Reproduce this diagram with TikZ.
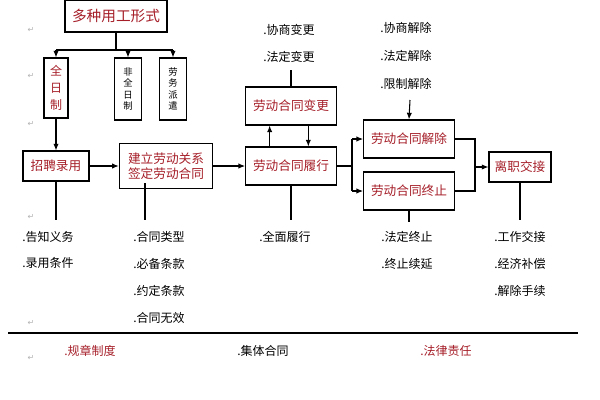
\documentclass[tikz,border=0pt]{standalone}
\usepackage{fontspec}
\setmainfont{Noto Sans CJK SC}
\newfontfamily\dv{DejaVu Sans}
\usetikzlibrary{arrows.meta}
\definecolor{myred}{RGB}{165,30,40}
\begin{document}
\begin{tikzpicture}[x=0.75pt,y=-0.75pt,
  bx/.style={draw,thick,inner sep=0pt,text=myred,font=\fontsize{9.5}{11}\selectfont},
  vb/.style={draw,thick,inner sep=0pt,font=\fontsize{7}{8.5}\selectfont,align=center},
  ln/.style={thick},
  ar/.style={thick,-{Latex[length=5pt,width=4pt]}},
  lbl/.style={anchor=west,inner sep=0pt,font=\fontsize{9}{10}\selectfont},
  pm/.style={inner sep=0pt,text=gray!60,font=\dv\fontsize{6}{6}\selectfont}]
\useasboundingbox (0,0) rectangle (600,400);
\node[bx,minimum width=76.5pt,minimum height=24pt,font=\fontsize{11}{12}\selectfont] (top) at (116,16) {多种用工形式};
\node[vb,text=myred,minimum width=18pt,minimum height=45pt,font=\fontsize{9}{13}\selectfont] (qr) at (56,88) {全\\日\\制};
\node[vb,minimum width=20pt,minimum height=46.5pt] (fq) at (128,89) {非\\全\\日\\制};
\node[vb,minimum width=20pt,minimum height=46.5pt] (lw) at (173,89) {劳\\务\\派\\遣};
\node[bx,minimum width=49.5pt,minimum height=22.5pt] (zp) at (56,166) {招聘录用};
\node[bx,minimum width=70pt,minimum height=34pt,align=center] (jl) at (166,166) {建立劳动关系\\签定劳动合同};
\node[bx,minimum width=68pt,minimum height=28.5pt] (lx) at (291,166) {劳动合同履行};
\node[bx,minimum width=68pt,minimum height=28.5pt] (bg) at (291,106) {劳动合同变更};
\node[bx,minimum width=68pt,minimum height=28.5pt] (jc) at (409,139) {劳动合同解除};
\node[bx,minimum width=68pt,minimum height=28.5pt] (zz) at (409,191) {劳动合同终止};
\node[bx,minimum width=46.5pt,minimum height=22.5pt] (lz) at (520,167) {离职交接};
% top branch
\coordinate (b0) at (116,50);
\draw[ln] (top.south) -- (b0);
\draw[ln] (56,50) -- (173,50);
\draw[ar] (56,50) -- (qr.north);
\draw[ar] (128,50) -- (fq.north);
\draw[ar] (173,50) -- (lw.north);
\draw[ar] (qr.south) -- (zp.north);
\draw[ar] (zp.east) -- (jl.west);
\draw[ar] (jl.east) -- (lx.west);
\draw[ar] ([xshift=-16]lx.north) -- ([xshift=-16]bg.south);
\draw[ar] ([xshift=13]bg.south) -- ([xshift=13]lx.north);
\coordinate (s1) at (352,166);
\draw[ln] (lx.east) -- (s1);
\draw[ln] (352,139) -- (352,191);
\draw[ar] (352,139) -- (jc.west);
\draw[ar] (352,191) -- (zz.west);
\draw[ln] (jc.east) -- (475,139) -- (475,191) -- (zz.east);
\draw[ar] (475,167) -- (lz.west);
% labels
\node[lbl] (a1) at (263,30) {.协商变更};
\node[lbl] (a2) at (263,57) {.法定变更};
\draw[ln] (291,70) -- (bg.north);
\node[lbl] (c1) at (380,28) {.协商解除};
\node[lbl] (c2) at (380,56) {.法定解除};
\node[lbl] (c3) at (380,84) {.限制解除};
\coordinate (c4) at (410,100);
\draw[ar] (c4) -- (jc.north);
\draw[ln] (zp.south) -- (56,220);
\draw[ln] (145,183) -- (145,220);
\draw[ln] (lx.south) -- (291,220);
\draw[ln] (zz.south) -- (409,222);
\draw[ln] (lz.south) -- (520,220);
\node[lbl] at (22,237) {.告知义务};
\node[lbl] at (22,263) {.录用条件};
\node[lbl] at (133,237) {.合同类型};
\node[lbl] at (133,264) {.必备条款};
\node[lbl] at (133,291) {.约定条款};
\node[lbl] at (133,318) {.合同无效};
\node[lbl] at (259,237) {.全面履行};
\node[lbl] at (381,237) {.法定终止};
\node[lbl] at (381,264) {.终止续延};
\node[lbl] at (494,237) {.工作交接};
\node[lbl] at (494,264) {.经济补偿};
\node[lbl] at (494,291) {.解除手续};
\coordinate (h1) at (8,333);
\coordinate (h2) at (578,333);
\draw[thick] (h1) -- (h2);
\node[lbl,text=myred] at (64,351) {.规章制度};
\node[lbl] at (237,351) {.集体合同};
\node[lbl,text=myred] at (420,351) {.法律责任};
\foreach \y in {30,76,124,217,323,358} \node[pm] at (31,\y) {↵};
\end{tikzpicture}
\end{document}
